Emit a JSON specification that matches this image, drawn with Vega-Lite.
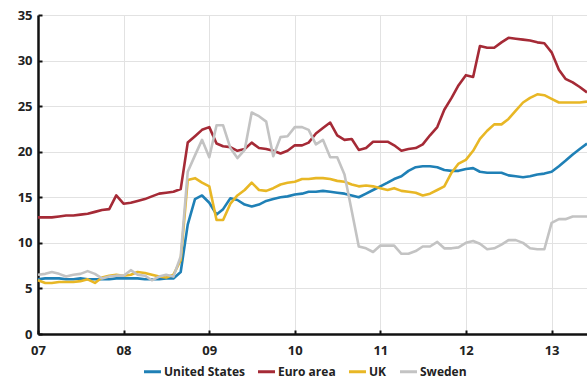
{
  "$schema": "https://vega.github.io/schema/vega-lite/v6.json",
  "autosize": {"type": "none"},
  "width": 549,
  "height": 319,
  "padding": {"left": 38, "top": 15, "right": 0, "bottom": 54},
  "background": "white",
  "config": {
    "view": {"stroke": null},
    "font": "Open Sans",
    "axis": {"labelFont": "Open Sans", "labelFontWeight": "bold", "labelFontSize": 13, "labelColor": "#222222", "gridColor": "#e2e2e2", "gridWidth": 1, "domainColor": "#111111", "domainWidth": 2.5, "tickColor": "#111111", "title": null}
  },
  "data": {"values": [
{"d":"2007-01-01","s":"United States","v":6.0},{"d":"2007-02-01","s":"United States","v":6.1},{"d":"2007-03-01","s":"United States","v":6.1},{"d":"2007-04-01","s":"United States","v":6.1},{"d":"2007-05-01","s":"United States","v":6.0},{"d":"2007-06-01","s":"United States","v":6.0},{"d":"2007-07-01","s":"United States","v":6.1},{"d":"2007-08-01","s":"United States","v":6.0},{"d":"2007-09-01","s":"United States","v":6.0},{"d":"2007-10-01","s":"United States","v":6.0},{"d":"2007-11-01","s":"United States","v":6.0},{"d":"2007-12-01","s":"United States","v":6.1},
{"d":"2008-01-01","s":"United States","v":6.1},{"d":"2008-02-01","s":"United States","v":6.1},{"d":"2008-03-01","s":"United States","v":6.1},{"d":"2008-04-01","s":"United States","v":6.0},{"d":"2008-05-01","s":"United States","v":6.0},{"d":"2008-06-01","s":"United States","v":6.0},{"d":"2008-07-01","s":"United States","v":6.1},{"d":"2008-08-01","s":"United States","v":6.1},{"d":"2008-09-01","s":"United States","v":6.8},{"d":"2008-10-01","s":"United States","v":12.0},{"d":"2008-11-01","s":"United States","v":14.8},{"d":"2008-12-01","s":"United States","v":15.2},
{"d":"2009-01-01","s":"United States","v":14.4},{"d":"2009-02-01","s":"United States","v":13.1},{"d":"2009-03-01","s":"United States","v":13.7},{"d":"2009-04-01","s":"United States","v":14.9},{"d":"2009-05-01","s":"United States","v":14.7},{"d":"2009-06-01","s":"United States","v":14.2},{"d":"2009-07-01","s":"United States","v":14.0},{"d":"2009-08-01","s":"United States","v":14.2},{"d":"2009-09-01","s":"United States","v":14.6},{"d":"2009-10-01","s":"United States","v":14.8},{"d":"2009-11-01","s":"United States","v":15.0},{"d":"2009-12-01","s":"United States","v":15.1},
{"d":"2010-01-01","s":"United States","v":15.3},{"d":"2010-02-01","s":"United States","v":15.4},{"d":"2010-03-01","s":"United States","v":15.6},{"d":"2010-04-01","s":"United States","v":15.6},{"d":"2010-05-01","s":"United States","v":15.7},{"d":"2010-06-01","s":"United States","v":15.6},{"d":"2010-07-01","s":"United States","v":15.5},{"d":"2010-08-01","s":"United States","v":15.4},{"d":"2010-09-01","s":"United States","v":15.2},{"d":"2010-10-01","s":"United States","v":15.0},{"d":"2010-11-01","s":"United States","v":15.4},{"d":"2010-12-01","s":"United States","v":15.8},
{"d":"2011-01-01","s":"United States","v":16.2},{"d":"2011-02-01","s":"United States","v":16.6},{"d":"2011-03-01","s":"United States","v":17.0},{"d":"2011-04-01","s":"United States","v":17.3},{"d":"2011-05-01","s":"United States","v":17.9},{"d":"2011-06-01","s":"United States","v":18.3},{"d":"2011-07-01","s":"United States","v":18.4},{"d":"2011-08-01","s":"United States","v":18.4},{"d":"2011-09-01","s":"United States","v":18.3},{"d":"2011-10-01","s":"United States","v":18.0},{"d":"2011-11-01","s":"United States","v":17.9},{"d":"2011-12-01","s":"United States","v":17.9},
{"d":"2012-01-01","s":"United States","v":18.1},{"d":"2012-02-01","s":"United States","v":18.2},{"d":"2012-03-01","s":"United States","v":17.8},{"d":"2012-04-01","s":"United States","v":17.7},{"d":"2012-05-01","s":"United States","v":17.7},{"d":"2012-06-01","s":"United States","v":17.7},{"d":"2012-07-01","s":"United States","v":17.4},{"d":"2012-08-01","s":"United States","v":17.3},{"d":"2012-09-01","s":"United States","v":17.2},{"d":"2012-10-01","s":"United States","v":17.3},{"d":"2012-11-01","s":"United States","v":17.5},{"d":"2012-12-01","s":"United States","v":17.6},
{"d":"2013-01-01","s":"United States","v":17.8},{"d":"2013-02-01","s":"United States","v":18.4},{"d":"2013-03-01","s":"United States","v":19.0},{"d":"2013-04-01","s":"United States","v":19.7},{"d":"2013-05-01","s":"United States","v":20.3},{"d":"2013-06-01","s":"United States","v":20.9},

{"d":"2007-01-01","s":"Euro area","v":12.8},{"d":"2007-02-01","s":"Euro area","v":12.8},{"d":"2007-03-01","s":"Euro area","v":12.8},{"d":"2007-04-01","s":"Euro area","v":12.9},{"d":"2007-05-01","s":"Euro area","v":13.0},{"d":"2007-06-01","s":"Euro area","v":13.0},{"d":"2007-07-01","s":"Euro area","v":13.1},{"d":"2007-08-01","s":"Euro area","v":13.2},{"d":"2007-09-01","s":"Euro area","v":13.4},{"d":"2007-10-01","s":"Euro area","v":13.6},{"d":"2007-11-01","s":"Euro area","v":13.7},{"d":"2007-12-01","s":"Euro area","v":15.2},
{"d":"2008-01-01","s":"Euro area","v":14.3},{"d":"2008-02-01","s":"Euro area","v":14.4},{"d":"2008-03-01","s":"Euro area","v":14.6},{"d":"2008-04-01","s":"Euro area","v":14.8},{"d":"2008-05-01","s":"Euro area","v":15.1},{"d":"2008-06-01","s":"Euro area","v":15.4},{"d":"2008-07-01","s":"Euro area","v":15.5},{"d":"2008-08-01","s":"Euro area","v":15.6},{"d":"2008-09-01","s":"Euro area","v":15.9},{"d":"2008-10-01","s":"Euro area","v":21.0},{"d":"2008-11-01","s":"Euro area","v":21.7},{"d":"2008-12-01","s":"Euro area","v":22.4},
{"d":"2009-01-01","s":"Euro area","v":22.7},{"d":"2009-02-01","s":"Euro area","v":20.9},{"d":"2009-03-01","s":"Euro area","v":20.6},{"d":"2009-04-01","s":"Euro area","v":20.5},{"d":"2009-05-01","s":"Euro area","v":20.1},{"d":"2009-06-01","s":"Euro area","v":20.3},{"d":"2009-07-01","s":"Euro area","v":21.0},{"d":"2009-08-01","s":"Euro area","v":20.4},{"d":"2009-09-01","s":"Euro area","v":20.3},{"d":"2009-10-01","s":"Euro area","v":20.1},{"d":"2009-11-01","s":"Euro area","v":19.8},{"d":"2009-12-01","s":"Euro area","v":20.1},
{"d":"2010-01-01","s":"Euro area","v":20.7},{"d":"2010-02-01","s":"Euro area","v":20.7},{"d":"2010-03-01","s":"Euro area","v":21.0},{"d":"2010-04-01","s":"Euro area","v":22.0},{"d":"2010-05-01","s":"Euro area","v":22.6},{"d":"2010-06-01","s":"Euro area","v":23.2},{"d":"2010-07-01","s":"Euro area","v":21.8},{"d":"2010-08-01","s":"Euro area","v":21.3},{"d":"2010-09-01","s":"Euro area","v":21.4},{"d":"2010-10-01","s":"Euro area","v":20.2},{"d":"2010-11-01","s":"Euro area","v":20.4},{"d":"2010-12-01","s":"Euro area","v":21.1},
{"d":"2011-01-01","s":"Euro area","v":21.1},{"d":"2011-02-01","s":"Euro area","v":21.1},{"d":"2011-03-01","s":"Euro area","v":20.7},{"d":"2011-04-01","s":"Euro area","v":20.1},{"d":"2011-05-01","s":"Euro area","v":20.3},{"d":"2011-06-01","s":"Euro area","v":20.4},{"d":"2011-07-01","s":"Euro area","v":20.8},{"d":"2011-08-01","s":"Euro area","v":21.8},{"d":"2011-09-01","s":"Euro area","v":22.7},{"d":"2011-10-01","s":"Euro area","v":24.6},{"d":"2011-11-01","s":"Euro area","v":25.9},{"d":"2011-12-01","s":"Euro area","v":27.3},
{"d":"2012-01-01","s":"Euro area","v":28.4},{"d":"2012-02-01","s":"Euro area","v":28.2},{"d":"2012-03-01","s":"Euro area","v":31.6},{"d":"2012-04-01","s":"Euro area","v":31.4},{"d":"2012-05-01","s":"Euro area","v":31.4},{"d":"2012-06-01","s":"Euro area","v":32.0},{"d":"2012-07-01","s":"Euro area","v":32.5},{"d":"2012-08-01","s":"Euro area","v":32.4},{"d":"2012-09-01","s":"Euro area","v":32.3},{"d":"2012-10-01","s":"Euro area","v":32.2},{"d":"2012-11-01","s":"Euro area","v":32.0},{"d":"2012-12-01","s":"Euro area","v":31.9},
{"d":"2013-01-01","s":"Euro area","v":30.9},{"d":"2013-02-01","s":"Euro area","v":29.0},{"d":"2013-03-01","s":"Euro area","v":28.0},{"d":"2013-04-01","s":"Euro area","v":27.6},{"d":"2013-05-01","s":"Euro area","v":27.1},{"d":"2013-06-01","s":"Euro area","v":26.5},

{"d":"2007-01-01","s":"UK","v":5.9},{"d":"2007-02-01","s":"UK","v":5.6},{"d":"2007-03-01","s":"UK","v":5.6},{"d":"2007-04-01","s":"UK","v":5.7},{"d":"2007-05-01","s":"UK","v":5.7},{"d":"2007-06-01","s":"UK","v":5.7},{"d":"2007-07-01","s":"UK","v":5.8},{"d":"2007-08-01","s":"UK","v":6.0},{"d":"2007-09-01","s":"UK","v":5.6},{"d":"2007-10-01","s":"UK","v":6.2},{"d":"2007-11-01","s":"UK","v":6.4},{"d":"2007-12-01","s":"UK","v":6.5},
{"d":"2008-01-01","s":"UK","v":6.4},{"d":"2008-02-01","s":"UK","v":6.5},{"d":"2008-03-01","s":"UK","v":6.8},{"d":"2008-04-01","s":"UK","v":6.7},{"d":"2008-05-01","s":"UK","v":6.5},{"d":"2008-06-01","s":"UK","v":6.3},{"d":"2008-07-01","s":"UK","v":6.2},{"d":"2008-08-01","s":"UK","v":6.5},{"d":"2008-09-01","s":"UK","v":8.1},{"d":"2008-10-01","s":"UK","v":16.9},{"d":"2008-11-01","s":"UK","v":17.1},{"d":"2008-12-01","s":"UK","v":16.6},
{"d":"2009-01-01","s":"UK","v":16.2},{"d":"2009-02-01","s":"UK","v":12.5},{"d":"2009-03-01","s":"UK","v":12.5},{"d":"2009-04-01","s":"UK","v":14.3},{"d":"2009-05-01","s":"UK","v":15.2},{"d":"2009-06-01","s":"UK","v":15.8},{"d":"2009-07-01","s":"UK","v":16.6},{"d":"2009-08-01","s":"UK","v":15.8},{"d":"2009-09-01","s":"UK","v":15.7},{"d":"2009-10-01","s":"UK","v":16.0},{"d":"2009-11-01","s":"UK","v":16.4},{"d":"2009-12-01","s":"UK","v":16.6},
{"d":"2010-01-01","s":"UK","v":16.7},{"d":"2010-02-01","s":"UK","v":17.0},{"d":"2010-03-01","s":"UK","v":17.0},{"d":"2010-04-01","s":"UK","v":17.1},{"d":"2010-05-01","s":"UK","v":17.1},{"d":"2010-06-01","s":"UK","v":17.0},{"d":"2010-07-01","s":"UK","v":16.8},{"d":"2010-08-01","s":"UK","v":16.7},{"d":"2010-09-01","s":"UK","v":16.4},{"d":"2010-10-01","s":"UK","v":16.2},{"d":"2010-11-01","s":"UK","v":16.3},{"d":"2010-12-01","s":"UK","v":16.2},
{"d":"2011-01-01","s":"UK","v":16.0},{"d":"2011-02-01","s":"UK","v":15.8},{"d":"2011-03-01","s":"UK","v":16.0},{"d":"2011-04-01","s":"UK","v":15.7},{"d":"2011-05-01","s":"UK","v":15.6},{"d":"2011-06-01","s":"UK","v":15.5},{"d":"2011-07-01","s":"UK","v":15.2},{"d":"2011-08-01","s":"UK","v":15.4},{"d":"2011-09-01","s":"UK","v":15.8},{"d":"2011-10-01","s":"UK","v":16.2},{"d":"2011-11-01","s":"UK","v":17.7},{"d":"2011-12-01","s":"UK","v":18.7},
{"d":"2012-01-01","s":"UK","v":19.1},{"d":"2012-02-01","s":"UK","v":20.1},{"d":"2012-03-01","s":"UK","v":21.4},{"d":"2012-04-01","s":"UK","v":22.3},{"d":"2012-05-01","s":"UK","v":23.0},{"d":"2012-06-01","s":"UK","v":23.0},{"d":"2012-07-01","s":"UK","v":23.6},{"d":"2012-08-01","s":"UK","v":24.5},{"d":"2012-09-01","s":"UK","v":25.4},{"d":"2012-10-01","s":"UK","v":25.9},{"d":"2012-11-01","s":"UK","v":26.3},{"d":"2012-12-01","s":"UK","v":26.2},
{"d":"2013-01-01","s":"UK","v":25.8},{"d":"2013-02-01","s":"UK","v":25.4},{"d":"2013-03-01","s":"UK","v":25.4},{"d":"2013-04-01","s":"UK","v":25.4},{"d":"2013-05-01","s":"UK","v":25.4},{"d":"2013-06-01","s":"UK","v":25.5},

{"d":"2007-01-01","s":"Sweden","v":6.5},{"d":"2007-02-01","s":"Sweden","v":6.6},{"d":"2007-03-01","s":"Sweden","v":6.8},{"d":"2007-04-01","s":"Sweden","v":6.6},{"d":"2007-05-01","s":"Sweden","v":6.3},{"d":"2007-06-01","s":"Sweden","v":6.5},{"d":"2007-07-01","s":"Sweden","v":6.6},{"d":"2007-08-01","s":"Sweden","v":6.9},{"d":"2007-09-01","s":"Sweden","v":6.6},{"d":"2007-10-01","s":"Sweden","v":6.1},{"d":"2007-11-01","s":"Sweden","v":6.3},{"d":"2007-12-01","s":"Sweden","v":6.4},
{"d":"2008-01-01","s":"Sweden","v":6.4},{"d":"2008-02-01","s":"Sweden","v":7.0},{"d":"2008-03-01","s":"Sweden","v":6.5},{"d":"2008-04-01","s":"Sweden","v":6.4},{"d":"2008-05-01","s":"Sweden","v":5.9},{"d":"2008-06-01","s":"Sweden","v":6.3},{"d":"2008-07-01","s":"Sweden","v":6.5},{"d":"2008-08-01","s":"Sweden","v":6.3},{"d":"2008-09-01","s":"Sweden","v":8.5},{"d":"2008-10-01","s":"Sweden","v":17.8},{"d":"2008-11-01","s":"Sweden","v":19.6},{"d":"2008-12-01","s":"Sweden","v":21.3},
{"d":"2009-01-01","s":"Sweden","v":19.4},{"d":"2009-02-01","s":"Sweden","v":22.9},{"d":"2009-03-01","s":"Sweden","v":22.9},{"d":"2009-04-01","s":"Sweden","v":20.4},{"d":"2009-05-01","s":"Sweden","v":19.3},{"d":"2009-06-01","s":"Sweden","v":20.2},{"d":"2009-07-01","s":"Sweden","v":24.3},{"d":"2009-08-01","s":"Sweden","v":23.9},{"d":"2009-09-01","s":"Sweden","v":23.3},{"d":"2009-10-01","s":"Sweden","v":19.5},{"d":"2009-11-01","s":"Sweden","v":21.6},{"d":"2009-12-01","s":"Sweden","v":21.7},
{"d":"2010-01-01","s":"Sweden","v":22.7},{"d":"2010-02-01","s":"Sweden","v":22.7},{"d":"2010-03-01","s":"Sweden","v":22.4},{"d":"2010-04-01","s":"Sweden","v":20.8},{"d":"2010-05-01","s":"Sweden","v":21.3},{"d":"2010-06-01","s":"Sweden","v":19.4},{"d":"2010-07-01","s":"Sweden","v":19.4},{"d":"2010-08-01","s":"Sweden","v":17.5},{"d":"2010-09-01","s":"Sweden","v":13.5},{"d":"2010-10-01","s":"Sweden","v":9.6},{"d":"2010-11-01","s":"Sweden","v":9.4},{"d":"2010-12-01","s":"Sweden","v":9.0},
{"d":"2011-01-01","s":"Sweden","v":9.7},{"d":"2011-02-01","s":"Sweden","v":9.7},{"d":"2011-03-01","s":"Sweden","v":9.7},{"d":"2011-04-01","s":"Sweden","v":8.8},{"d":"2011-05-01","s":"Sweden","v":8.8},{"d":"2011-06-01","s":"Sweden","v":9.1},{"d":"2011-07-01","s":"Sweden","v":9.6},{"d":"2011-08-01","s":"Sweden","v":9.6},{"d":"2011-09-01","s":"Sweden","v":10.1},{"d":"2011-10-01","s":"Sweden","v":9.4},{"d":"2011-11-01","s":"Sweden","v":9.4},{"d":"2011-12-01","s":"Sweden","v":9.5},
{"d":"2012-01-01","s":"Sweden","v":10.0},{"d":"2012-02-01","s":"Sweden","v":10.2},{"d":"2012-03-01","s":"Sweden","v":9.9},{"d":"2012-04-01","s":"Sweden","v":9.3},{"d":"2012-05-01","s":"Sweden","v":9.4},{"d":"2012-06-01","s":"Sweden","v":9.8},{"d":"2012-07-01","s":"Sweden","v":10.3},{"d":"2012-08-01","s":"Sweden","v":10.3},{"d":"2012-09-01","s":"Sweden","v":10.0},{"d":"2012-10-01","s":"Sweden","v":9.4},{"d":"2012-11-01","s":"Sweden","v":9.3},{"d":"2012-12-01","s":"Sweden","v":9.3},
{"d":"2013-01-01","s":"Sweden","v":12.2},{"d":"2013-02-01","s":"Sweden","v":12.6},{"d":"2013-03-01","s":"Sweden","v":12.6},{"d":"2013-04-01","s":"Sweden","v":12.9},{"d":"2013-05-01","s":"Sweden","v":12.9},{"d":"2013-06-01","s":"Sweden","v":12.9}
  ]},
  "mark": {"type": "line", "strokeWidth": 2.6, "strokeJoin": "round"},
  "encoding": {
    "x": {"field": "d", "type": "temporal", "scale": {"type": "utc", "nice": false},
          "axis": {"labelExpr": "utcFormat(datum.value, '%y')", "labelFlush": false, "labelOverlap": false, "tickCount": {"interval": "year", "step": 1}, "tickSize": -4, "tickWidth": 2, "labelPadding": 14, "grid": true}},
    "y": {"field": "v", "type": "quantitative", "scale": {"domain": [0, 35], "nice": false},
          "axis": {"values": [0, 5, 10, 15, 20, 25, 30, 35], "tickSize": -4, "tickWidth": 2, "labelPadding": 10, "grid": true}},
    "color": {"field": "s", "type": "nominal", "sort": ["United States", "Euro area", "UK", "Sweden"],
      "scale": {"domain": ["United States", "Euro area", "UK", "Sweden"], "range": ["#1f80b6", "#a52a36", "#e8b725", "#c3c3c3"]},
      "legend": {"title": null, "orient": "none", "legendX": 104, "legendY": 346, "direction": "horizontal", "symbolType": "stroke", "symbolStrokeWidth": 3, "symbolSize": 290, "labelOffset": 1, "labelFont": "Open Sans", "labelFontWeight": "bold", "labelFontSize": 12, "labelColor": "#222222", "columnPadding": 6}},
    "order": {"field": "s"}
  }
}
